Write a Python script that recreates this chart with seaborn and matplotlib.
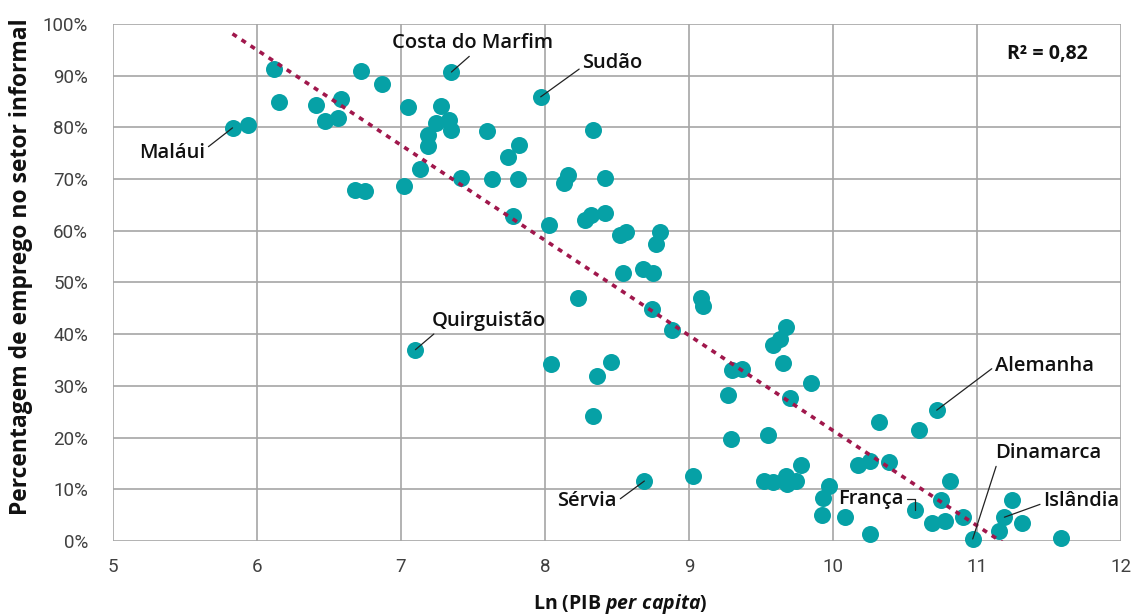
import numpy as np
import pandas as pd
import matplotlib
matplotlib.use("Agg")
import matplotlib.pyplot as plt
import seaborn as sns

# Ln of GDP per capita and share of informal employment (%) by country
ln_gdp = [5.83, 5.94, 6.12, 6.15, 6.41, 6.47, 6.56, 6.58, 6.68, 6.75,
          6.72, 6.87, 7.02, 7.05, 7.13, 7.10, 7.19, 7.19, 7.24, 7.28,
          7.33, 7.35, 7.35, 7.42, 7.60, 7.63, 7.74, 7.81, 7.78, 7.82,
          7.97, 8.03, 8.04, 8.13, 8.16, 8.23, 8.28, 8.32, 8.33, 8.33,
          8.36, 8.42, 8.42, 8.46, 8.52, 8.54, 8.56, 8.69, 8.68, 8.74,
          8.75, 8.77, 8.80, 8.88, 9.03, 9.08, 9.10, 9.27, 9.29, 9.30,
          9.37, 9.52, 9.55, 9.58, 9.58, 9.63, 9.67, 9.65, 9.67, 9.68,
          9.70, 9.74, 9.78, 9.85, 9.92, 9.93, 9.97, 10.08, 10.17, 10.26,
          10.26, 10.32, 10.39, 10.57, 10.60, 10.69, 10.72, 10.75, 10.78, 10.81,
          10.90, 10.97, 11.15, 11.19, 11.24, 11.31, 11.58]
informal = [79.9, 80.5, 91.3, 84.9, 84.3, 81.2, 81.8, 85.5, 67.9, 67.7,
            90.9, 88.4, 68.7, 83.9, 72.0, 37.0, 76.4, 78.5, 80.9, 84.1,
            81.4, 79.5, 90.7, 70.2, 79.3, 70.0, 74.3, 70.0, 62.9, 76.6,
            85.9, 61.1, 34.2, 69.2, 70.8, 47.0, 62.1, 63.1, 79.5, 24.2,
            31.9, 70.2, 63.4, 34.6, 59.2, 51.8, 59.8, 11.6, 52.6, 44.9,
            51.8, 57.4, 59.8, 40.8, 12.6, 47.0, 45.5, 28.2, 19.7, 33.1,
            33.3, 11.6, 20.5, 11.4, 37.9, 39.1, 41.4, 34.4, 12.6, 11.0,
            27.7, 11.6, 14.7, 30.6, 5.0, 8.3, 10.6, 4.6, 14.7, 1.4,
            15.5, 23.0, 15.3, 6.0, 21.5, 3.5, 25.3, 7.9, 3.9, 11.6,
            4.6, 0.4, 1.9, 4.6, 7.9, 3.5, 0.6]

# Highlighted countries: name, point (x, y), label position, alignment, line anchor
labels = ["Costa do Marfim", "Sudão", "Maláui", "Quirguistão", "Sérvia",
          "Alemanha", "Dinamarca", "Islândia", "França"]
label_pts = [(7.35, 90.7), (7.97, 85.9), (5.83, 79.9), (7.10, 37.0), (8.69, 11.6),
             (10.72, 25.3), (10.97, 0.4), (11.19, 4.6), (10.57, 6.0)]
label_pos = [(7.50, 96.3), (8.26, 92.5), (5.64, 75.0), (7.215, 42.6), (8.50, 7.7),
             (11.125, 33.8), (11.125, 17.0), (11.46, 7.7), (10.49, 8.1)]
label_ha = ["center", "left", "right", "left", "right", "left", "left", "left", "right"]
label_rel = [(0.5, 0.0), (0.0, 0.3), (1.0, 0.7), (0.05, 0.0), (1.0, 0.5),
             (0.0, 0.5), (0.02, 0.0), (0.0, 0.4), (1.0, 0.5)]

x_ticks = [5, 6, 7, 8, 9, 10, 11, 12]
y_ticks = [0, 10, 20, 30, 40, 50, 60, 70, 80, 90, 100]
r2_text = "R² = 0,82"

df = pd.DataFrame({"ln_gdp": ln_gdp, "informal": informal})

sns.set_theme(style="white")
plt.rcParams["font.family"] = ["Open Sans", "DejaVu Sans"]
plt.rcParams["mathtext.fontset"] = "custom"
plt.rcParams["mathtext.rm"] = "Open Sans:bold"
plt.rcParams["mathtext.bfit"] = "Open Sans:italic:bold"
plt.rcParams["mathtext.it"] = "Open Sans:italic:bold"

teal = "#06A1A6"
maroon = "#A0174C"
grid_c = "#A6A6A6"
text_c = "#111111"

fig = plt.figure(figsize=(11.31, 6.14), dpi=100)
ax = fig.add_axes([0.0999, 0.1189, 0.8913, 0.8421])

sns.regplot(data=df, x="ln_gdp", y="informal", ax=ax, ci=None,
            scatter_kws={"s": 150, "color": teal, "alpha": 1, "linewidths": 0,
                         "clip_on": False, "zorder": 2},
            line_kws={"color": maroon, "lw": 2.6, "linestyle": (0, (1.4, 1.6)),
                      "zorder": 3})

ax.set_xlim(5, 12)
ax.set_ylim(0, 100)
ax.set_xticks(x_ticks)
ax.set_yticks(y_ticks)
ax.set_xticklabels([str(v) for v in x_ticks])
ax.set_yticklabels([f"{v}%" for v in y_ticks])
ax.grid(True, color=grid_c, lw=1.2)
ax.set_axisbelow(True)
for s in ax.spines.values():
    s.set_visible(False)

for t in ax.get_xticklabels() + ax.get_yticklabels():
    t.set_fontfamily(["Roboto", "DejaVu Sans"])
    t.set_fontweight("normal")
    t.set_color("#404040")
    t.set_fontsize(13.5)
ax.tick_params(axis="y", length=0, pad=18)
ax.tick_params(axis="x", length=0, pad=12)

ax.set_xlabel(r"Ln (PIB $\mathbfit{per\ capita}$)", fontsize=14,
              fontweight="bold", color=text_c)
ax.xaxis.set_label_coords(0.503, -0.099)
ax.set_ylabel("Percentagem de emprego no setor informal", fontsize=16.5,
              fontweight="bold", color=text_c)
ax.yaxis.set_label_coords(-0.079, 0.53)

for name, pt, pos, ha, rel in zip(labels, label_pts, label_pos, label_ha, label_rel):
    if name == "França":
        conn = "angle,angleA=0,angleB=90,rad=0"
    else:
        conn = "arc3"
    ax.annotate(name, xy=pt, xytext=pos, ha=ha, va="center",
                fontsize=14.5, fontweight="semibold", color=text_c,
                annotation_clip=False, zorder=5,
                arrowprops=dict(arrowstyle="-", color="#222222", lw=0.9,
                                shrinkA=0, shrinkB=0, relpos=rel,
                                connectionstyle=conn))

ax.text(11.49, 94.2, r2_text, ha="center", va="center", fontsize=14,
        fontweight="bold", color=text_c)

fig.savefig("out.png", dpi=100)
